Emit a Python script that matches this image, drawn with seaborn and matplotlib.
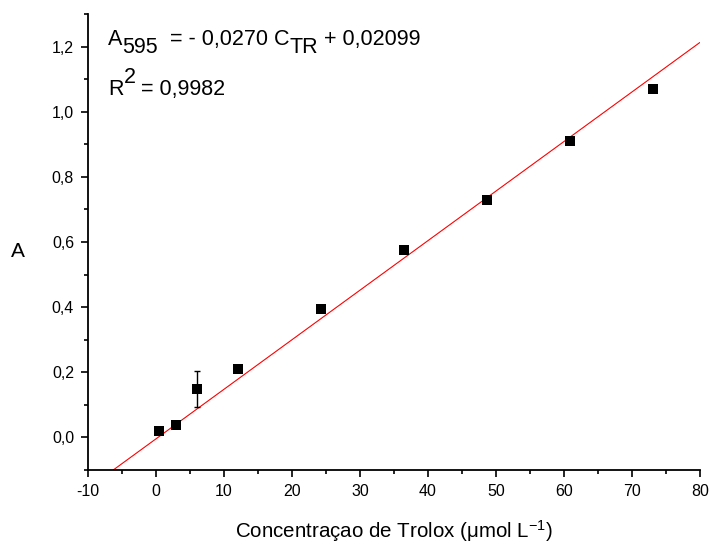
import seaborn as sns
import matplotlib.pyplot as plt
import pandas as pd
from matplotlib.ticker import MultipleLocator, FuncFormatter

# trolox calibration data
conc = [0.5, 3.0, 6.0, 12.1, 24.3, 36.5, 48.7, 60.9, 73.1]
absorb = [0.019, 0.037, 0.149, 0.211, 0.393, 0.576, 0.730, 0.911, 1.070]
err = [0.0, 0.0, 0.055, 0.0, 0.0, 0.0, 0.0, 0.0, 0.0]

# fitted line as drawn in the figure
fit_slope = 0.01521
fit_icpt = -0.0045

# equation pieces: (text, shift) ; shift -1 = subscript, +1 = superscript
eq_parts = [('A', 0), ('595', -1), ('  = - 0,0270 C', 0), ('TR', -1), (' + 0,02099', 0)]
r2_parts = [('R', 0), ('2', 1), (' = 0,9982', 0)]

df = pd.DataFrame({'conc': conc, 'A': absorb, 'err': err})

sns.set_style('ticks', {'axes.edgecolor': 'black', 'text.color': 'black',
                        'axes.labelcolor': 'black', 'xtick.color': 'black',
                        'ytick.color': 'black'})
plt.rcParams['font.family'] = ['Liberation Sans', 'DejaVu Sans']
plt.rcParams['mathtext.fontset'] = 'custom'
plt.rcParams['mathtext.rm'] = 'Liberation Sans'
plt.rcParams['mathtext.it'] = 'Liberation Sans'
plt.rcParams['mathtext.default'] = 'rm'

fig = plt.figure(figsize=(7.09, 5.48), dpi=100)
ax = fig.add_axes([0.124, 0.1423, 0.863, 0.8322])

ax.axline((0, fit_icpt), slope=fit_slope, color='red', lw=0.8, zorder=1)
ax.errorbar(df.conc, df.A, yerr=df.err, fmt='none', ecolor='black',
            elinewidth=1.0, capsize=2.5, capthick=1.0, zorder=2)
sns.scatterplot(data=df, x='conc', y='A', marker='s', s=45, color='black',
                edgecolor='black', linewidth=0, ax=ax, zorder=3)

ax.set_xlim(-10, 80)
ax.set_ylim(-0.1, 1.3)
ax.xaxis.set_major_locator(MultipleLocator(10))
ax.xaxis.set_minor_locator(MultipleLocator(5))
ax.yaxis.set_major_locator(MultipleLocator(0.2))
ax.yaxis.set_minor_locator(MultipleLocator(0.1))
ax.yaxis.set_major_formatter(FuncFormatter(lambda v, p: f'{v:.1f}'.replace('.', ',').replace('-0,0', '0,0')))
ax.xaxis.set_major_formatter(FuncFormatter(lambda v, p: f'{v:.0f}'))

sns.despine(ax=ax)
for s in ['left', 'bottom']:
    ax.spines[s].set_linewidth(1.3)
ax.tick_params(which='major', direction='out', length=5, width=1.2, labelsize=11.5, pad=5)
ax.tick_params(which='minor', direction='out', length=3, width=1.2)

ax.set_xlabel('Concentraçao de Trolox (μmol L$^{-1}$)', fontsize=14.8, va='baseline')
ax.xaxis.set_label_coords(0.5, -0.149)
ax.set_ylabel('A', fontsize=15, rotation=0, ha='center', va='center')
ax.yaxis.set_label_coords(-0.114, 0.48)


def chain_text(parts, x, y, size=15.5):
    # lay out text pieces one after another, sub/superscripts shifted
    base = ax.text(x, y, parts[0][0], fontsize=size, va='baseline', ha='left')
    prev = base
    for txt, shift in parts[1:]:
        if shift == 0:
            t = ax.annotate(txt, xy=(1, 0), xycoords=(prev, base), fontsize=size,
                            va='bottom', ha='left')
            base = t
        else:
            dy = -6 if shift < 0 else 8.5
            t = ax.annotate(txt, xy=(1, 0), xycoords=(prev, base), xytext=(0, dy),
                            textcoords='offset points', fontsize=size,
                            va='bottom', ha='left')
        prev = t


chain_text(eq_parts, -7.06, 1.2055)
chain_text(r2_parts, -7.06, 1.052)

fig.savefig('out.png', dpi=100)
